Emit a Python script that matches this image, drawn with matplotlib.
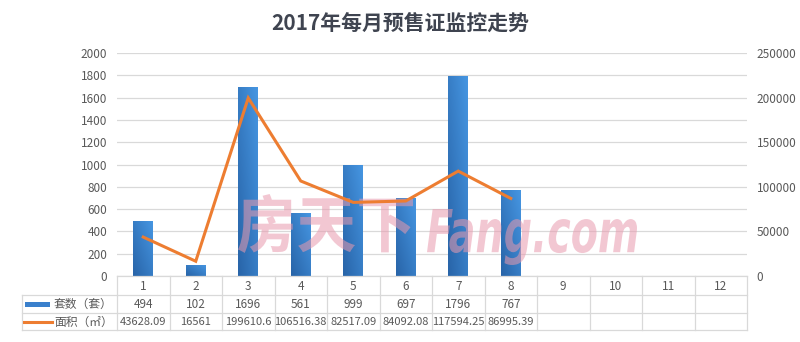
import numpy as np
import matplotlib
matplotlib.use("Agg")
import matplotlib.pyplot as plt
from matplotlib.transforms import blended_transform_factory, IdentityTransform, Affine2D
from matplotlib.textpath import TextPath
from matplotlib.font_manager import FontProperties
from matplotlib.patches import PathPatch, Rectangle
from matplotlib.lines import Line2D

plt.rcParams['font.family'] = ['Noto Sans CJK SC', 'DejaVu Sans']

# ---------------- data ----------------
title = "2017年每月预售证监控走势"
months = ["1", "2", "3", "4", "5", "6", "7", "8", "9", "10", "11", "12"]
units = [494, 102, 1696, 561, 999, 697, 1796, 767]
areas = [43628.09, 16561, 199610.6, 106516.38, 82517.09, 84092.08, 117594.25, 86995.39]
series_units_label = "套数（套）"
series_area_label = "面积（㎡）"
left_ticks = [0, 200, 400, 600, 800, 1000, 1200, 1400, 1600, 1800, 2000]
right_ticks = [0, 50000, 100000, 150000, 200000, 250000]
watermark_cn = "房天下"
watermark_en = "Fang.com"

W, H = 800, 342
fig = plt.figure(figsize=(W / 100, H / 100), dpi=100)

def fy(py):
    return 1 - py / H

left_px, right_px, top_px, bot_px = 117, 747, 53, 276
ax = fig.add_axes([left_px / W, fy(bot_px), (right_px - left_px) / W, (bot_px - top_px) / H])
ax2 = ax.twinx()

x = np.arange(1, len(units) + 1)
ax.set_xlim(0.5, len(months) + 0.5)
ax.set_ylim(0, 2000)
ax2.set_ylim(0, 250000)

# bars with gradient
bar_w = 0.38
bars = ax.bar(x, units, width=bar_w, color='none', edgecolor='none', zorder=2)
c_dark = np.array([0x28, 0x64, 0xA8]) / 255
c_light = np.array([0x46, 0x96, 0xE2]) / 255
gx = np.linspace(0, 1, 40)
gy = np.linspace(0, 1, 80)
GX, GY = np.meshgrid(gx, gy)
tgrid = np.clip(0.5 * GX + 0.5 * GY, 0, 1)
img = c_dark[None, None, :] * (1 - tgrid[..., None]) + c_light[None, None, :] * tgrid[..., None]
for b in bars:
    x0, y0 = b.get_x(), b.get_y()
    w, h = b.get_width(), b.get_height()
    im = ax.imshow(img, extent=(x0, x0 + w, y0, y0 + h), origin='lower',
                   aspect='auto', zorder=2, interpolation='bilinear')
    im.set_clip_path(b)
ax.set_xlim(0.5, len(months) + 0.5)
ax.set_ylim(0, 2000)

# line
ax2.plot(x, areas, color='#ED7D31', lw=2.2, zorder=5, solid_joinstyle='miter')

# axes styling
grid_c = '#D9D9D9'
ax.set_yticks(left_ticks)
ax.yaxis.grid(True, color=grid_c, lw=0.9)
ax.set_axisbelow(True)
ax2.set_yticks(right_ticks)
for a in (ax, ax2):
    for s in a.spines.values():
        s.set_visible(False)
    a.tick_params(axis='y', length=0, labelsize=8.5, labelcolor='#595959')
    a.set_xticks([])
ax.tick_params(axis='y', pad=7)
ax2.tick_params(axis='y', pad=7)

# title
fig.text(0.5, fy(23), title, ha='center', va='center', fontsize=15,
         fontweight='bold', color='#3F4450')

# ---------------- data table ----------------
tr = blended_transform_factory(ax.transData, fig.transFigure)
trf = fig.transFigure
row_lines = [295, 313, 330]
edges = np.arange(0.5, len(months) + 1.0, 1.0)
for py in row_lines:
    fig.add_artist(Line2D([22 / W, right_px / W], [fy(py), fy(py)], color=grid_c, lw=0.9, transform=trf))
fig.add_artist(Line2D([left_px / W, right_px / W], [fy(bot_px), fy(bot_px)], color=grid_c, lw=0.9, transform=trf))
for e in edges:
    fig.add_artist(Line2D([e, e], [fy(bot_px), fy(330)], color=grid_c, lw=0.9, transform=tr))
fig.add_artist(Line2D([22 / W, 22 / W], [fy(295), fy(330)], color=grid_c, lw=0.9, transform=trf))

txt_c = '#595959'
fs = 8
for i, m in enumerate(months):
    fig.text(i + 1, fy(286), m, transform=tr, ha='center', va='center', fontsize=8.5, color=txt_c)

def fmt(v):
    return ('%.2f' % v).rstrip('0').rstrip('.')

for i, v in enumerate(units):
    fig.text(i + 1, fy(304), str(v), transform=tr, ha='center', va='center', fontsize=8.5, color=txt_c)
for i, v in enumerate(areas):
    fig.text(i + 1, fy(322), fmt(v), transform=tr, ha='center', va='center', fontsize=fs, color=txt_c)

# legend keys
fig.add_artist(Rectangle((25 / W, fy(307)), 25 / W, 5 / H, transform=trf,
                         facecolor='#3A80CC', edgecolor='none'))
fig.add_artist(Line2D([24 / W, 52 / W], [fy(322), fy(322)], color='#ED7D31', lw=2.2, transform=trf))
fig.text(54 / W, fy(304), series_units_label, ha='left', va='center', fontsize=8.5, color=txt_c)
fig.text(54 / W, fy(322), series_area_label, ha='left', va='center', fontsize=8.5, color=txt_c)

# ---------------- watermark ----------------
def place_text(s, prop, box, color, alpha, z):
    tp = TextPath((0, 0), s, size=100, prop=prop)
    ext = tp.get_extents()
    x0, yt, x1, yb = box
    sx = (x1 - x0) / ext.width
    sy = (yb - yt) / ext.height
    t = Affine2D().translate(-ext.x0, -ext.y0).scale(sx, sy).translate(x0, H - yb)
    p = t.transform_path(tp)
    patch = PathPatch(p, facecolor=color, edgecolor='none', alpha=alpha,
                      transform=IdentityTransform(), zorder=z)
    ax2.add_artist(patch)

place_text(watermark_cn, FontProperties(family='Noto Sans CJK SC', weight='bold'),
           (238, 194, 413, 253), '#E99AAE', 0.55, 3)
place_text(watermark_en, FontProperties(family='DejaVu Sans', weight='bold', style='italic'),
           (427, 209, 637, 265), '#E99AAE', 0.55, 3)

fig.savefig('out.png', dpi=100)
